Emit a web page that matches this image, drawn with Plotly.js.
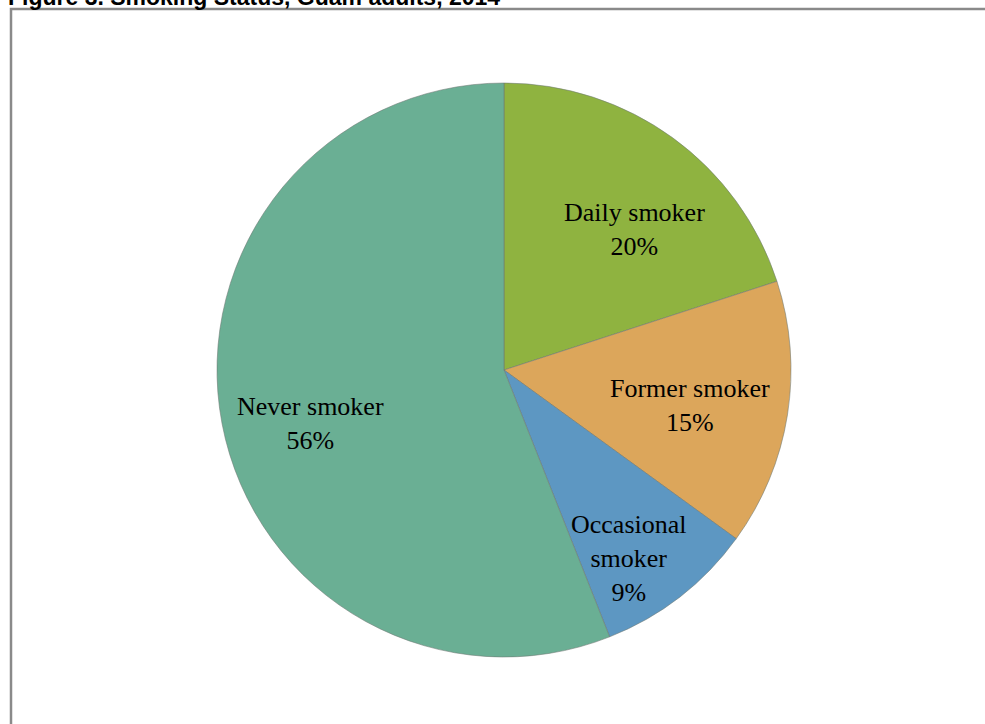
<!DOCTYPE html>
<html>
<head>
<meta charset="utf-8">
<script src="https://cdn.plot.ly/plotly-3.0.1.min.js"></script>
<style>html,body{margin:0;padding:0;background:#fff;}#chart{width:985px;height:724px;}</style>
</head>
<body>
<div id="chart"></div>
<script>
// ---- data ----
const titleText = "Figure 3. Smoking Status, Guam adults, 2014";
const categories = ["Daily smoker", "Former smoker", "Occasional<br>smoker", "Never smoker"];
const percentValues = [20, 15, 9, 56];

// ---- styles / placement ----
const sliceColors = ["#8fb340", "#dca65b", "#5d97c2", "#6aaf94"];
const W = 985, H = 724;
const pieCx = 504, pieCy = 370, pieR = 287;          // pixels
const labelAngleOffset = [6.9, 1.7, 4.2, -4.5];      // degrees from slice bisector
const labelRadius = [0.67, 0.66, 0.79, 0.70];        // fraction of pie radius

const total = percentValues.reduce((a, b) => a + b, 0);
const annotations = [];
let cum = 0;
percentValues.forEach((v, i) => {
  const mid = (cum + v / 2) / total * 360 + labelAngleOffset[i];
  cum += v;
  const a = mid * Math.PI / 180;
  const px = pieCx + labelRadius[i] * pieR * Math.sin(a);
  const py = pieCy - labelRadius[i] * pieR * Math.cos(a);
  annotations.push({
    xref: "paper", yref: "paper", x: px / W, y: 1 - py / H,
    xanchor: "center", yanchor: "middle", showarrow: false,
    text: categories[i] + "<br>" + Math.round(v / total * 100) + "%",
    font: {family: "Liberation Serif, Times New Roman, serif", size: 26, color: "#000"}
  });
});

const trace = {
  type: "pie",
  labels: categories,
  values: percentValues,
  sort: false,
  direction: "clockwise",
  rotation: 0,
  marker: {colors: sliceColors, line: {color: "rgba(110,120,115,0.7)", width: 0.8}},
  textinfo: "none",
  hoverinfo: "label+percent",
  showlegend: false,
  domain: {x: [(pieCx - pieR) / W, (pieCx + pieR) / W], y: [1 - (pieCy + pieR) / H, 1 - (pieCy - pieR) / H]}
};

const layout = {
  width: W, height: H,
  margin: {l: 0, r: 0, t: 0, b: 0},
  paper_bgcolor: "#ffffff",
  title: {
    text: "<b>" + titleText + "</b>",
    font: {family: "Liberation Sans, Arial, sans-serif", size: 23, color: "#000"},
    x: 8 / W, xanchor: "left", xref: "container",
    y: 1 - 5 / H, yanchor: "bottom", yref: "container",
    pad: {t: 0, b: 0, l: 0, r: 0}
  },
  annotations: annotations,
  shapes: [{
    type: "rect", xref: "paper", yref: "paper",
    x0: 11 / W, x1: 1.02, y0: -0.02, y1: 1 - 9 / H,
    line: {color: "#8a8a8a", width: 2.5}, fillcolor: "rgba(0,0,0,0)", layer: "below"
  }]
};

Plotly.newPlot("chart", [trace], layout, {displayModeBar: false, staticPlot: true});
</script>
</body>
</html>
